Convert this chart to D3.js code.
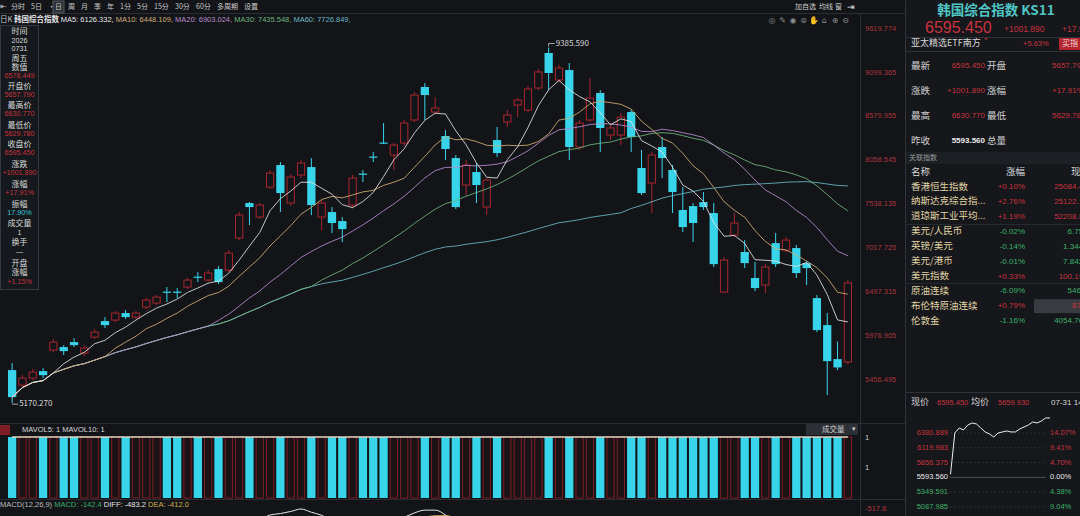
<!DOCTYPE html>
<html>
<head>
<meta charset="utf-8">
<script src="https://cdn.jsdelivr.net/npm/d3@7"></script>
<style>
  html, body { margin: 0; padding: 0; background: #121418; }
  svg { display: block; font-family: "Noto Sans CJK SC", "Noto Sans", "Liberation Sans", sans-serif; }
</style>
</head>
<body>
<svg id="chart" width="1080" height="516"></svg>
<script>
// ---- 日K 数据 ----
const opens  = [5561.8,5384,5467,5550,5799,5835,5894,5763,5953,6143,6155,6238,6190,6309,6356,6492,6492,6546,6670,6629,
                6759,6747,7127,7542,7376,7731,7992,7542,7874,7968,7376,7435,7328,7518,7891,8093,8259,8111,8253,8526,
                8917,8620,8336,8075,7755,7909,7494,8288,8502,8703,8644,8905,9320,9000,9118,8206,8526,8846,8348,8348,
                8620,7957,7779,8206,7933,7459,7506,7553,7423,6487,7162,6961,6653,6570,7067,6985,7008,6830,6415,6095,
                5692,5657.79];
const highs  = [5644.8,5502,5574,5586,5930,5858,5941,5858,6048,6190,6261,6273,6261,6416,6451,6546,6534,6653,6724,6747,
                6795,6985,7435,7554,7542,7933,8028,7885,8051,8075,7577,7494,7376,7874,7933,8146,8490,8253,8526,8858,
                8964,8798,8407,8111,8051,8016,7838,8443,8644,8786,8929,9130,9385.59,9178,9201,8526,9023,8881,8466,8609,
                8644,8170,8146,8324,7992,7731,7542,7672,7542,6901,7423,7103,6842,6818,7186,7139,7044,6854,6451,6237,
                5900,6630.77];
const lows   = [5170.27,5348,5443,5467,5775,5740,5835,5728,5930,6060,6131,6166,6166,6285,6332,6368,6415,6522,6605,6605,
                6581,6724,7103,7281,7352,7708,7435,7506,7838,7399,7222,7186,7079,7482,7791,8028,8241,7933,8217,8502,
                8526,8597,8051,7470,7636,7542,7399,8087,8443,8561,8620,8881,8881,8976,8051,8170,8502,8146,8288,8229,
                8146,7636,7423,7838,7423,7198,7079,7459,6783,6474,7139,6771,6498,6474,6783,6961,6653,6570,6012,5265,
                5562,5629.78];
const closes = [5241.8,5467,5538,5502,5894,5787,5858,5823,6012,6095,6238,6190,6238,6392,6427,6481,6481,6629,6658,6712,
                6605,6949,7399,7494,7518,7897,7660,7850,8016,7518,7542,7305,7233,7838,7879,8081,8247,8229,8490,8822,
                8822,8668,8182,7494,7992,7755,7814,8134,8585,8763,8893,9095,9083,9142,8206,8490,8786,8431,8431,8561,
                8324,7660,8111,8075,7672,7257,7305,7494,6818,6866,7305,6830,6534,6783,6818,7103,6712,6771,6036,5668,
                5593.56,6595.45];
const volumes = closes.map(() => 1);   // 成交量显示均为 1

const priceTicks = [9619.774, 9099.365, 8579.955, 8058.545, 7538.135, 7017.725, 6497.315, 5976.905, 5456.495];
const maPeriods  = [5, 10, 20, 30, 60];
const maNames    = ['MA5: 6126.332,', 'MA10: 6448.109,', 'MA20: 6903.024,', 'MA30: 7435.548,', 'MA60: 7726.849,'];
const maColors   = ['#e4e4e4', '#cfae78', '#b88ccc', '#6fb57e', '#6cb6c6'];
const volTicks = [1, 0.5];
const volTickLabels = ['1', '1'];

const toolbarItems = ['分时', '5日', '·', '日', '周', '月', '季', '年', '1分', '5分', '15分', '30分', '60分', '多周期', '设置'];

const infoLabels = ['时间', '2026', '0731', '周五', '数值', '6578.449', '开盘价', '5657.790', '最高价', '6630.770', '最低价',
                    '5629.780', '收盘价', '6595.450', '涨跌', '+1001.890', '涨幅', '+17.91%', '振幅', '17.90%', '成交量', '1',
                    '换手', '—', '开盘', '涨幅', '+1.15%'];
const infoKinds  = ['l','n','n','l','l','r','l','r','l','r','l','r','l','r','l','r','l','r','l','c','l','n','l','n','l','l','r'];

const relNames   = ['香港恒生指数', '纳斯达克综合指...', '道琼斯工业平均...', '美元/人民币', '英镑/美元', '美元/港币', '美元指数', '原油连续', '布伦特原油连续', '伦敦金'];
const relChanges = ['+0.10%', '+2.76%', '+1.19%', '-0.02%', '-0.14%', '-0.01%', '+0.33%', '-6.09%', '+0.79%', '-1.16%'];
const relPrices  = ['25084.430', '25122.180', '52208.860', '6.7513', '1.34466', '7.84258', '100.1900', '546.00', '87.55', '4054.7600'];

const intraday = [5657.79, 6381, 6469, 6434, 6521, 6556, 6539, 6469, 6399, 6364, 6311, 6381, 6399, 6416, 6399, 6399,
                  6451, 6486, 6521, 6574, 6556, 6591, 6644, 6644];
const miniLevels = [6380.889, 6119.983, 5856.375, 5593.560, 5349.591, 5087.985];
const miniPcts   = ['14.07%', '9.41%', '4.70%', '0.00%', '4.38%', '9.04%'];

// ---- 颜色 ----
const BG = '#121418', PANEL = '#15171b', LINE = '#2a2d33';
const RED = '#a8262f', CYAN = '#38d4ea', TXT = '#c8c8c8', PRED = '#c8333d', PGREEN = '#3bb06a';

const svg = d3.select('#chart');
svg.append('rect').attr('width', 1080).attr('height', 516).attr('fill', BG);

function text(g, x, y, s, fill, size, anchor = 'start', weight = 'normal', family = null) {
  const t = g.append('text').attr('x', x).attr('y', y).attr('fill', fill)
    .attr('font-size', size).attr('text-anchor', anchor).attr('font-weight', weight)
    .attr('dominant-baseline', 'middle').text(s);
  if (family) t.attr('font-family', family);
  return t;
}

// ---- 比例尺 ----
const N = closes.length;
const x = d3.scaleBand().domain(d3.range(N)).range([8, 852]).paddingInner(0.2);
const bw = x.bandwidth();
const cx = i => x(i) + bw / 2;
const y = d3.scaleLinear().domain([priceTicks[priceTicks.length - 1], priceTicks[0]]).range([379, 27.7]);
const yVol = d3.scaleLinear().domain([0, 1]).range([498, 437]);

const isUp = i => closes[i] >= opens[i];

// ---- 分隔线 ----
const frame = svg.append('g').attr('stroke', LINE).attr('stroke-width', 1);
frame.append('line').attr('x1', 0).attr('x2', 905).attr('y1', 13.5).attr('y2', 13.5);
frame.append('line').attr('x1', 0).attr('x2', 905).attr('y1', 423.5).attr('y2', 423.5);
frame.append('line').attr('x1', 0).attr('x2', 905).attr('y1', 499.5).attr('y2', 499.5);
frame.append('line').attr('x1', 860.5).attr('x2', 860.5).attr('y1', 14).attr('y2', 516);

// ---- K 线 ----
const kg = svg.append('g');
d3.range(N).forEach(i => {
  const top = y(Math.max(opens[i], closes[i]));
  const bot = y(Math.min(opens[i], closes[i]));
  const h = Math.max(1.2, bot - top);
  if (isUp(i)) {
    kg.append('line').attr('x1', cx(i)).attr('x2', cx(i)).attr('y1', y(highs[i])).attr('y2', top)
      .attr('stroke', RED).attr('stroke-width', 1);
    kg.append('line').attr('x1', cx(i)).attr('x2', cx(i)).attr('y1', top + h).attr('y2', y(lows[i]))
      .attr('stroke', RED).attr('stroke-width', 1);
    kg.append('rect').attr('x', x(i) + 0.5).attr('y', top).attr('width', bw - 1).attr('height', h)
      .attr('fill', BG).attr('stroke', RED).attr('stroke-width', 1);
  } else {
    kg.append('line').attr('x1', cx(i)).attr('x2', cx(i)).attr('y1', y(highs[i])).attr('y2', y(lows[i]))
      .attr('stroke', CYAN).attr('stroke-width', 1);
    kg.append('rect').attr('x', x(i)).attr('y', top).attr('width', bw).attr('height', h).attr('fill', CYAN);
  }
});

// ---- 均线 ----
function movingAvg(vals, n) {
  return vals.map((_, i) => d3.mean(vals.slice(Math.max(0, i - n + 1), i + 1)));
}
const lineGen = d3.line().x((d, i) => cx(i)).y(d => y(d));
maPeriods.slice().reverse().forEach((p, k) => {
  const idx = maPeriods.length - 1 - k;
  svg.append('path').attr('d', lineGen(movingAvg(closes, p)))
    .attr('fill', 'none').attr('stroke', maColors[idx]).attr('stroke-width', 1).attr('opacity', 0.85);
});

// ---- 最高/最低标注 ----
const iMax = d3.maxIndex(highs), iMin = d3.minIndex(lows);
svg.append('path')
  .attr('d', `M${cx(iMax)},${y(highs[iMax]) - 1}V${y(highs[iMax]) - 4}H${cx(iMax) + 6}`)
  .attr('fill', 'none').attr('stroke', '#cfcfcf').attr('stroke-width', 0.8);
text(svg, cx(iMax) + 7, y(highs[iMax]) - 4, d3.format('.3f')(highs[iMax]), '#d6d6d6', 8);
svg.append('path')
  .attr('d', `M${cx(iMin)},${y(lows[iMin]) + 1}V${y(lows[iMin]) + 1}H${cx(iMin) + 6}`)
  .attr('fill', 'none').attr('stroke', '#cfcfcf').attr('stroke-width', 0.8);
text(svg, cx(iMin) + 7, y(lows[iMin]) + 1, d3.format('.3f')(lows[iMin]), '#d6d6d6', 8);

// ---- 价格轴 ----
const yAxis = svg.append('g').attr('transform', 'translate(858,0)')
  .call(d3.axisRight(y).tickValues(priceTicks).tickSize(0).tickPadding(7).tickFormat(d3.format('.3f')));
yAxis.select('.domain').remove();
yAxis.selectAll('text').attr('fill', '#a8343d').attr('font-size', 7.5).attr('font-family', 'Liberation Sans');

// ---- 成交量 ----
const vg = svg.append('g');
d3.range(N).forEach(i => {
  if (isUp(i)) {
    vg.append('rect').attr('x', x(i) + 0.5).attr('y', yVol(volumes[i])).attr('width', bw - 1)
      .attr('height', yVol(0) - yVol(volumes[i])).attr('fill', '#1a1214').attr('stroke', '#7e1d25').attr('stroke-width', 1);
  } else {
    vg.append('rect').attr('x', x(i)).attr('y', yVol(volumes[i])).attr('width', bw)
      .attr('height', yVol(0) - yVol(volumes[i])).attr('fill', CYAN);
  }
});
const volLine = d3.line().x((d, i) => cx(i)).y(d => yVol(d));
svg.append('path').attr('d', volLine(movingAvg(volumes, 10))).attr('fill', 'none').attr('stroke', '#cfae78').attr('stroke-width', 1);
svg.append('path').attr('d', volLine(movingAvg(volumes, 5))).attr('fill', 'none').attr('stroke', '#e8e8e8').attr('stroke-width', 1);
const vAxis = svg.append('g').attr('transform', 'translate(858,0)')
  .call(d3.axisRight(yVol).tickValues(volTicks).tickSize(0).tickPadding(7).tickFormat((d, i) => volTickLabels[i]));
vAxis.select('.domain').remove();
vAxis.selectAll('text').attr('fill', '#cfcfcf').attr('font-size', 7.5).attr('font-family', 'Liberation Sans');

svg.append('rect').attr('x', 0).attr('y', 425).attr('width', 10).attr('height', 10).attr('fill', '#7e1d25');
text(svg, 22, 430, 'MAVOL5: 1 MAVOL10: 1', '#d8d8d8', 7.5, 'start', 'normal', 'Liberation Sans');
svg.append('rect').attr('x', 806).attr('y', 424).attr('width', 52).attr('height', 11).attr('fill', '#2c2f35');
text(svg, 822, 429.5, '成交量', '#d0d0d0', 7.5);
text(svg, 852, 429.5, '▾', '#d0d0d0', 7);

// ---- MACD ----
function ema(vals, n) {
  const k = 2 / (n + 1); const out = [];
  vals.forEach((v, i) => out.push(i === 0 ? v : v * k + out[i - 1] * (1 - k)));
  return out;
}
const e12 = ema(closes, 12), e26 = ema(closes, 26);
const diff = closes.map((_, i) => e12[i] - e26[i]);
const dea = ema(diff, 9);
const yMacd = d3.scaleLinear().domain([0, d3.max(diff)]).range([572, 509]);
svg.append('clipPath').attr('id', 'macdClip').append('rect').attr('x', 0).attr('y', 500).attr('width', 858).attr('height', 16);
const macdLine = d3.line().x((d, i) => cx(i)).y(d => yMacd(d)).curve(d3.curveMonotoneX);
const mg = svg.append('g').attr('clip-path', 'url(#macdClip)');
mg.append('path').attr('d', macdLine(dea)).attr('fill', 'none').attr('stroke', '#cfae4a').attr('stroke-width', 1);
mg.append('path').attr('d', macdLine(diff)).attr('fill', 'none').attr('stroke', '#e6e6e6').attr('stroke-width', 1);
const mt = svg.append('text').attr('y', 505).attr('font-size', 7.5).attr('dominant-baseline', 'middle').attr('font-family', 'Liberation Sans');
mt.append('tspan').attr('x', 0).attr('fill', '#bdbdbd').text('MACD(12,26,9) ');
mt.append('tspan').attr('fill', PGREEN).text('MACD: -142.4   ');
mt.append('tspan').attr('fill', '#e6e6e6').text('DIFF: -483.2   ');
mt.append('tspan').attr('fill', '#cfae4a').text('DEA: -412.0');
text(svg, 865, 509, '-517.8', '#a8343d', 7.5, 'start', 'normal', 'Liberation Sans');

// ---- 顶部工具栏 ----
const tb = svg.append('g');
text(tb, 0, 7, '⇤', TXT, 8);
let tx = 11;
toolbarItems.forEach(s => {
  const w = s === '·' ? 4 : s.replace(/[0-9]/g, '').length * 7 + (s.match(/[0-9]/g) || []).length * 4;
  if (s === '日') tb.append('rect').attr('x', tx - 2).attr('y', 1).attr('width', w + 4).attr('height', 12).attr('fill', '#2c2f35').attr('stroke', '#555a62');
  text(tb, tx, 7.5, s, TXT, 7);
  tx += w + (s === '·' ? 3 : 6);
});
text(tb, 795, 7.5, '加自选', TXT, 7);
text(tb, 819, 7.5, '均线', TXT, 7);
text(tb, 835, 7.5, '窗', TXT, 7);
text(tb, 847, 7.5, '⇥', '#e0e0e0', 9);
['◎', '✎', '◉', '⊜', '✋', '⌂', '⊕', '⊖'].forEach((s, i) => text(tb, 772 + i * 10.5, 20, s, '#8e8e8e', 8, 'middle', 'normal', 'DejaVu Sans'));

const t2 = svg.append('text').attr('x', 0).attr('y', 20).attr('font-size', 7.5).attr('dominant-baseline', 'middle');
t2.append('tspan').attr('fill', TXT).text('日K ');
t2.append('tspan').attr('fill', '#e6e6e6').attr('font-weight', 'bold').text('韩国综合指数 ');
maNames.forEach((s, i) => t2.append('tspan').attr('fill', maColors[i]).attr('font-family', 'Liberation Sans').text(s + '  '));

// ---- 左侧信息栏 ----
const info = svg.append('g');
info.append('rect').attr('x', 0.5).attr('y', 25.5).attr('width', 38).attr('height', 264).attr('fill', '#15181c').attr('stroke', '#34383f');
const infoY = [32, 41, 49.5, 59, 68, 76.5, 86.5, 95, 106, 114.5, 125.5, 134, 145, 153.5, 165, 173.5, 185, 193.5,
               205, 213.5, 224, 233, 243, 252, 263.5, 272.5, 282];
infoLabels.forEach((s, i) => {
  const kind = infoKinds[i];
  const col = kind === 'r' ? PRED : kind === 'c' ? '#36c7d8' : '#d8d8d8';
  const isCjk = kind === 'l';
  text(info, 19.5, infoY[i], s, col, isCjk ? 8 : 7.2, 'middle', 'normal', isCjk ? null : 'Liberation Sans');
});

// ---- 右侧面板 ----
const rp = svg.append('g');
rp.append('rect').attr('x', 905).attr('y', 0).attr('width', 175).attr('height', 516).attr('fill', PANEL);
rp.append('line').attr('x1', 905.5).attr('x2', 905.5).attr('y1', 0).attr('y2', 516).attr('stroke', '#30333a');
text(rp, 996, 11, '韩国综合指数 KS11', '#4fc6c4', 13.5, 'middle', 'bold');
text(rp, 925, 29, '6595.450', PRED, 16, 'start', 'normal', 'Liberation Sans');
text(rp, 1004, 30, '+1001.890', PRED, 8.5, 'start', 'normal', 'Liberation Sans');
text(rp, 1062, 30, '+17.91%', PRED, 8.5, 'start', 'normal', 'Liberation Sans');
rp.append('line').attr('x1', 906).attr('x2', 1080).attr('y1', 37.5).attr('y2', 37.5).attr('stroke', '#2e3137');
text(rp, 911, 44, '亚太精选ETF南方', '#d8d8d8', 9);
text(rp, 984, 42, '*', PRED, 8);
text(rp, 1023, 44, '+5.63%', PRED, 7.5, 'start', 'normal', 'Liberation Sans');
rp.append('rect').attr('x', 1059).attr('y', 38).attr('width', 24).attr('height', 12).attr('fill', '#b3262f');
text(rp, 1062, 44, '买指', '#f2d6d6', 8);
rp.append('line').attr('x1', 906).attr('x2', 1080).attr('y1', 51.5).attr('y2', 51.5).attr('stroke', '#2e3137');

const quoteRows = [
  ['最新', '6595.450', '开盘', '5657.790'],
  ['涨跌', '+1001.890', '涨幅', '+17.91%'],
  ['最高', '6630.770', '最低', '5629.780'],
  ['昨收', '5593.560', '总量', '']
];
quoteRows.forEach((r, i) => {
  const yy = 66 + i * 25;
  text(rp, 911, yy, r[0], '#d0d0d0', 9.5);
  text(rp, 985, yy, r[1], i === 3 ? '#eaeaea' : PRED, 8, 'end', i === 3 ? 'bold' : 'normal', 'Liberation Sans');
  text(rp, 987, yy, r[2], '#d0d0d0', 9.5);
  text(rp, 1052, yy, r[3], PRED, 8, 'start', 'normal', 'Liberation Sans');
});

rp.append('rect').attr('x', 906).attr('y', 152).attr('width', 174).attr('height', 12).attr('fill', '#1c1f24');
text(rp, 909, 158, '关联指数', '#9a9a9a', 7);
text(rp, 911, 172, '名称', '#d8d8d8', 9.5);
text(rp, 1025, 172, '涨幅', '#d8d8d8', 9.5, 'end');
text(rp, 1090, 172, '现价', '#d8d8d8', 9.5, 'end');
relNames.forEach((s, i) => {
  const yy = 187 + i * 14.9;
  const pos = relChanges[i][0] === '+';
  const col = pos ? PRED : PGREEN;
  if (s === '布伦特原油连续') rp.append('rect').attr('x', 1034).attr('y', yy - 7).attr('width', 46).attr('height', 14).attr('fill', '#3a3b40');
  text(rp, 911, yy, s, '#e0d5a6', 9.5);
  text(rp, 1025, yy, relChanges[i], col, 8, 'end', 'normal', 'Liberation Sans');
  text(rp, 1092, yy, relPrices[i], col, 8, 'end', 'normal', 'Liberation Sans');
});
rp.append('line').attr('x1', 906).attr('x2', 1080).attr('y1', 224.5).attr('y2', 224.5).attr('stroke', '#262930');
rp.append('line').attr('x1', 906).attr('x2', 1080).attr('y1', 283.5).attr('y2', 283.5).attr('stroke', '#262930');
rp.append('line').attr('x1', 906).attr('x2', 1080).attr('y1', 392.5).attr('y2', 392.5).attr('stroke', '#2e3137');

// ---- 分时小图 ----
text(rp, 911, 403, '现价', '#d8d8d8', 9);
text(rp, 937, 403, '6595.450', PRED, 7.5, 'start', 'normal', 'Liberation Sans');
text(rp, 971, 403, '均价', '#d8d8d8', 9);
text(rp, 998, 403, '5659.930', PRED, 7.5, 'start', 'normal', 'Liberation Sans');
text(rp, 1051, 403, '07-31 14', '#d8d8d8', 8, 'start', 'normal', 'Liberation Sans');

const yMiniLabel = d3.scalePoint().domain(miniLevels).range([433, 507]);
const yMini = d3.scaleLinear().domain([miniLevels[3], miniLevels[0]]).range([478, 433]);
const xMini = d3.scaleLinear().domain([0, intraday.length - 1]).range([950.5, 1050]);
miniLevels.forEach((v, i) => {
  const yy = yMiniLabel(v);
  const col = i < 3 ? PRED : i === 3 ? '#e6e6e6' : PGREEN;
  rp.append('line').attr('x1', 950).attr('x2', 1046).attr('y1', yy).attr('y2', yy)
    .attr('stroke', i === 3 ? '#4a4d54' : '#2b2e34').attr('stroke-dasharray', i === 3 ? null : '2,2');
  text(rp, 948, yy, d3.format('.3f')(v), col, 7.5, 'end', 'normal', 'Liberation Sans');
  text(rp, 1050, yy, miniPcts[i], col, 7.5, 'start', 'normal', 'Liberation Sans');
});
rp.append('path').attr('d', d3.line().x((d, i) => xMini(i)).y(d => yMini(d))(intraday))
  .attr('fill', 'none').attr('stroke', '#eeeeee').attr('stroke-width', 1);
</script>
</body>
</html>
